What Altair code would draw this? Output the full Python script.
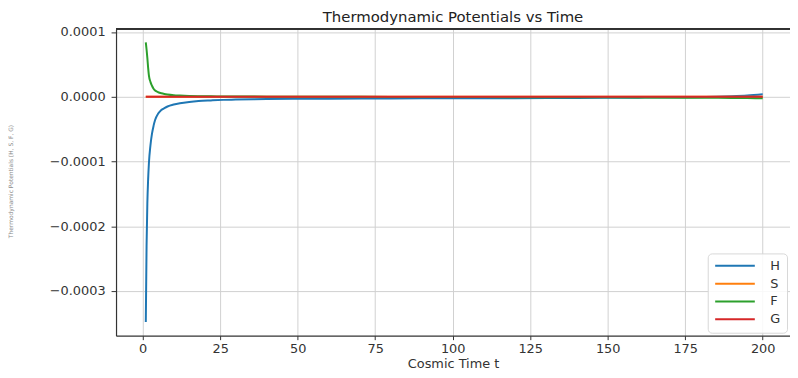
import altair as alt
import pandas as pd

# ---- data ----
t_vals = [1, 1.25, 1.5, 1.75, 2, 2.5, 3, 3.5, 4, 5, 6, 7, 8, 10, 12, 15, 18, 22, 26, 30,
          40, 50, 60, 80, 100, 120, 140, 160, 175, 185, 190, 195, 200]

H_vals = [-3.48e-4, -2.30e-4, -1.65e-4, -1.28e-4, -1.03e-4, -7.5e-5, -5.7e-5, -4.5e-5, -3.6e-5,
          -2.6e-5, -2.05e-5, -1.75e-5, -1.5e-5, -1.2e-5, -1.0e-5, -8.0e-6, -6.6e-6, -5.6e-6,
          -4.8e-6, -4.3e-6, -3.6e-6, -3.2e-6, -2.9e-6, -2.6e-6, -2.4e-6, -2.2e-6, -1.9e-6,
          -1.4e-6, -0.8e-6, 0.0, 0.8e-6, 2.0e-6, 4.0e-6]

S_vals = [0.0] * 33

F_vals = [8.4e-5, 7.3e-5, 6.0e-5, 4.5e-5, 3.3e-5, 2.3e-5, 1.7e-5, 1.25e-5, 9.6e-6, 7.0e-6,
          5.4e-6, 4.3e-6, 3.5e-6, 2.4e-6, 1.8e-6, 1.2e-6, 0.9e-6, 0.7e-6, 0.5e-6, 0.4e-6,
          0.2e-6, 0.1e-6, 0.0, -0.2e-6, -0.4e-6, -0.6e-6, -0.8e-6, -1.1e-6, -1.4e-6, -1.7e-6,
          -1.9e-6, -2.1e-6, -2.4e-6]

G_vals = [0.0] * 33

series_names = ["H", "S", "F", "G"]
series_colors = ["#1f77b4", "#ff7f0e", "#2ca02c", "#d62728"]
x_ticks = [0, 25, 50, 75, 100, 125, 150, 175, 200]
y_ticks = [-0.0003, -0.0002, -0.0001, 0.0, 0.0001]

rows = []
for name, vals in zip(series_names, [H_vals, S_vals, F_vals, G_vals]):
    for i, (t, v) in enumerate(zip(t_vals, vals)):
        rows.append({"t": t, "value": v, "series": name, "order": i})
df = pd.DataFrame(rows)

FONT = "DejaVu Sans"
W, H = 680, 309

lines = alt.Chart(df).mark_line(strokeWidth=2, interpolate="monotone").encode(
    x=alt.X("t:Q",
            scale=alt.Scale(domain=[-8.6, 208.8], nice=False, zero=False),
            axis=alt.Axis(values=x_ticks, title="Cosmic Time t", grid=True,
                          gridColor="#d0d0d0", gridWidth=1,
                          domainColor="#333", domainWidth=1.2,
                          tickColor="#333", tickSize=4,
                          labelFont=FONT, labelFontSize=13, labelColor="#333",
                          labelPadding=3, titleFont=FONT, titleFontSize=13,
                          titleFontWeight="normal", titleColor="#333", titlePadding=2)),
    y=alt.Y("value:Q",
            scale=alt.Scale(domain=[-0.000369, 0.000104], nice=False, zero=False),
            axis=alt.Axis(values=y_ticks, format=".4f", title="Thermodynamic Potentials (H, S, F, G)",
                          grid=True, gridColor="#d0d0d0", gridWidth=1,
                          domainColor="#333", domainWidth=1.2,
                          tickColor="#333", tickSize=5,
                          labelFont=FONT, labelFontSize=13, labelColor="#333",
                          labelPadding=6, titleFont=FONT, titleFontSize=6,
                          titleFontWeight="normal", titleColor="#888",
                          titleX=-106, titleY=153, titleAngle=-90,
                          titleAlign="center", titleBaseline="middle")),
    color=alt.Color("series:N",
                    scale=alt.Scale(domain=series_names, range=series_colors),
                    sort=series_names,
                    legend=alt.Legend(title=None, orient="none", legendX=597, legendY=226,
                                      symbolType="M-1,0H7", symbolSize=100, symbolStrokeWidth=2,
                                      labelFont=FONT, labelFontSize=13, labelColor="#333",
                                      labelOffset=44, rowPadding=4,
                                      padding=6, cornerRadius=4, strokeColor="#d8d8d8",
                                      fillColor="rgba(255,255,255,0.85)")),
    order=alt.Order("order:Q"),
)

top_spine = alt.Chart(df).mark_rule(color="#333", strokeWidth=1.2).encode(
    x=alt.value(0), x2=alt.value(W), y=alt.value(0)
)

chart = alt.layer(lines, top_spine).properties(
    width=W, height=H,
    title=alt.TitleParams("Thermodynamic Potentials vs Time", font=FONT, fontSize=15,
                          fontWeight="normal", color="#222", anchor="middle", offset=1),
    autosize=alt.AutoSizeParams(type="none"),
    padding={"left": 109, "top": 20, "right": 0, "bottom": 33},
).configure_view(strokeWidth=0)

chart.save("out.html", embed_options={"renderer": "svg", "actions": False})
